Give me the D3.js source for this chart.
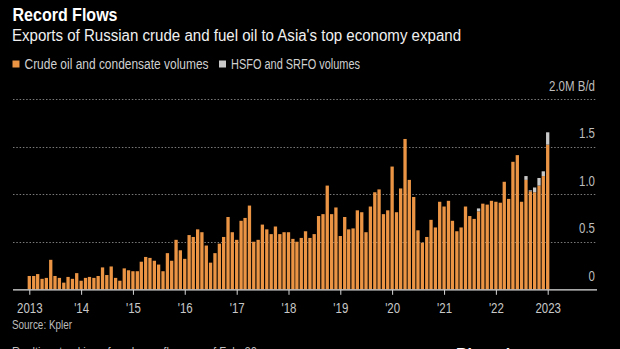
<!DOCTYPE html>
<html><head><meta charset="utf-8">
<script src="https://cdn.jsdelivr.net/npm/d3@7"></script>
<style>
html,body{margin:0;padding:0;background:#000;}
svg{display:block;}
text{font-family:"Liberation Sans",Arial,sans-serif;}
</style></head>
<body>
<svg id="c" width="620" height="349"></svg>
<script>
// Monthly volumes, Jan 2013 .. Jan 2023 (million b/d)
const crude = [
0.14,0.14,0.16,0.11,0.12,0.31,0.14,0.12,0.07,0.13,0.11,0.17,
0.09,0.12,0.13,0.12,0.14,0.23,0.15,0.24,0.12,0.09,0.22,0.20,
0.19,0.19,0.29,0.34,0.33,0.30,0.26,0.19,0.38,0.30,0.52,0.41,
0.32,0.57,0.55,0.63,0.60,0.46,0.28,0.38,0.48,0.55,0.76,0.60,
0.52,0.72,0.75,0.88,0.50,0.52,0.68,0.63,0.58,0.66,0.58,0.60,
0.60,0.53,0.50,0.54,0.61,0.54,0.58,0.77,0.79,1.09,0.79,0.86,
0.56,0.76,0.63,0.64,0.83,0.81,0.60,0.87,1.02,1.05,0.79,0.83,
1.29,0.81,1.06,1.58,1.15,0.97,0.62,0.49,0.55,0.73,0.65,0.92,
0.87,0.93,0.72,0.61,0.65,0.87,0.77,0.74,0.82,0.90,0.89,0.93,
0.92,0.91,1.13,0.95,1.34,1.41,0.92,1.15,1.03,1.02,1.09,1.19,
1.52];
const hsfo = [
0,0,0,0,0,0,0,0,0,0,0,0,
0,0,0,0,0,0,0,0,0,0,0,0,
0,0,0,0,0,0,0,0,0,0,0,0,
0,0,0,0,0,0,0,0,0,0,0,0,
0,0,0,0,0,0,0,0,0,0,0,0,
0,0,0,0,0,0,0,0,0,0,0,0,
0,0,0,0,0,0,0,0,0,0,0,0,
0,0,0,0,0,0,0,0,0,0,0,0,
0,0,0,0,0,0,0,0,0.03,0,0,0,
0,0,0,0,0,0,0,0.04,0.01,0.05,0.08,0.05,
0.13];
const startYear = 2013, startMonth = 0;
const yTicks = [0, 0.5, 1.0, 1.5, 2.0];
const yTickLabels = ["0", "0.5", "1.0", "1.5", "2.0M B/d"];
const xTickYears = [2013,2014,2015,2016,2017,2018,2019,2020,2021,2022,2023];
const xTickLabels = ["2013","'14","'15","'16","'17","'18","'19","'20","'21","'22","2023"];
const legendLabels = ["Crude oil and condensate volumes","HSFO and SRFO volumes"];
const colors = ["#ea9444","#c9c9c9"];

const data = crude.map((c,i)=>({date:new Date(startYear, startMonth+i, 1), crude:c, hsfo:hsfo[i]}));

const svg = d3.select("#c");
const x = d3.scaleTime().domain([new Date(2013,0,1), new Date(2023,0,1)]).range([29.3, 547.7]);
const y = d3.scaleLinear().domain([0,2]).range([289.3, 99]);
const bw = 3.3;

// condense text horizontally by a factor
function squeeze(sel, k){
  sel.each(function(){
    const L = this.getComputedTextLength();
    d3.select(this).attr("textLength", L*k).attr("lengthAdjust","spacingAndGlyphs");
  });
}
function fitW(sel, w){ sel.attr("textLength", w).attr("lengthAdjust","spacingAndGlyphs"); }

// title
fitW(svg.append("text").attr("x",12.5).attr("y",20.5).attr("fill","#fff")
  .attr("font-size",17.5).attr("font-weight","bold").text("Record Flows"), 105);
fitW(svg.append("text").attr("x",12).attr("y",40.5).attr("fill","#f0f0f0")
  .attr("font-size",16).text("Exports of Russian crude and fuel oil to Asia's top economy expand"), 449);

// legend
const lg = svg.append("g");
const lx = [12.5, 219];
const lw = [184, 129];
legendLabels.forEach((l,i)=>{
  lg.append("rect").attr("x",lx[i]).attr("y",60.5).attr("width",7).attr("height",7).attr("fill",colors[i]);
  fitW(lg.append("text").attr("x",lx[i]+12).attr("y",69).attr("fill","#d0d0d0").attr("font-size",14).text(l), lw[i]);
});

// grid
const grid = svg.append("g");
yTicks.filter(t=>t>0).forEach(t=>{
  grid.append("line").attr("x1",13).attr("x2",597).attr("y1",Math.round(y(t))+0.5).attr("y2",Math.round(y(t))+0.5)
    .attr("stroke","#7a7a7a").attr("stroke-width",1).attr("stroke-dasharray","1.5,1.8");
});
const yl = svg.append("g");
yTicks.forEach((t,i)=>{
  yl.append("text").attr("x",595).attr("y",y(t)-8.5).attr("text-anchor","end")
    .attr("fill","#bdbdbd").attr("font-size",14).text(yTickLabels[i]);
});
squeeze(yl.selectAll("text"), 0.82);

// bars
const bars = svg.append("g");
bars.selectAll("rect.c").data(data).join("rect").attr("class","c")
  .attr("x",d=>x(d.date)-bw/2).attr("width",bw)
  .attr("y",d=>y(d.crude)).attr("height",d=>y(0)-y(d.crude)).attr("fill",colors[0]);
bars.selectAll("rect.h").data(data.filter(d=>d.hsfo>0)).join("rect").attr("class","h")
  .attr("x",d=>x(d.date)-bw/2).attr("width",bw)
  .attr("y",d=>y(d.crude+d.hsfo)).attr("height",d=>y(d.crude)-y(d.crude+d.hsfo)).attr("fill",colors[1]);

// baseline + x axis
svg.append("line").attr("x1",13).attr("x2",597).attr("y1",289.8).attr("y2",289.8)
  .attr("stroke","#e0e0e0").attr("stroke-width",1.2);
const xAxis = d3.axisBottom(x)
  .tickValues(xTickYears.map(yr=>new Date(yr,0,1)))
  .tickFormat((d,i)=>xTickLabels[i]).tickSize(5).tickPadding(8);
const ax = svg.append("g").attr("transform","translate(0,289.8)").call(xAxis);
ax.select(".domain").remove();
ax.selectAll(".tick line").attr("stroke","#d8d8d8");
ax.selectAll(".tick text").attr("fill","#c8c8c8").attr("font-size",14)
  .attr("font-family",'"Liberation Sans",Arial,sans-serif');
squeeze(ax.selectAll(".tick text"), 0.82);

// footer
fitW(svg.append("text").attr("x",12).attr("y",329).attr("fill","#bdbdbd").attr("font-size",13.5).text("Source: Kpler"), 60);
fitW(svg.append("text").attr("x",12).attr("y",356).attr("fill","#bdbdbd").attr("font-size",13.5)
  .text("Realtime tracking of seaborne flows as of Feb. 20"), 245);
svg.append("text").attr("x",456).attr("y",360).attr("fill","#fff").attr("font-size",16).attr("font-weight","bold").text("Bloomberg");
</script>
</body></html>
